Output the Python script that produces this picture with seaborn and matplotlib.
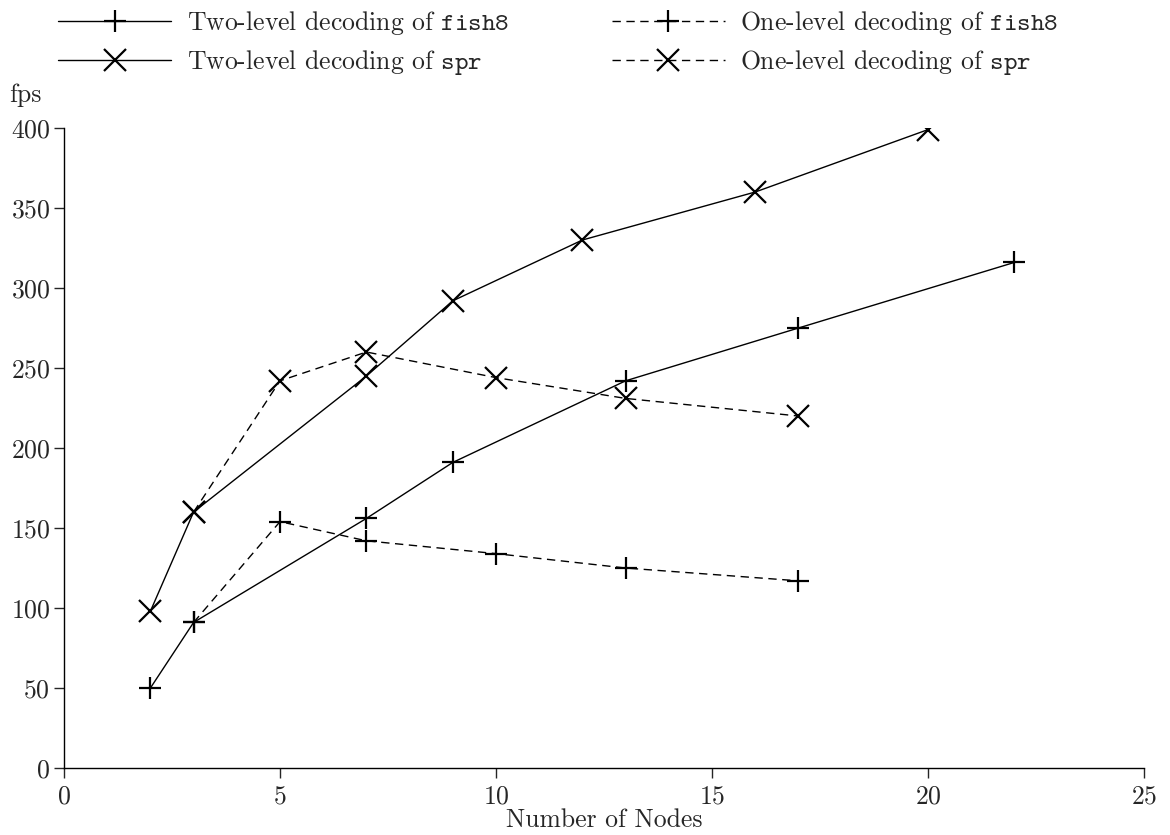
import matplotlib
matplotlib.use("Agg")
import matplotlib.pyplot as plt
import seaborn as sns
import pandas as pd

# data
two_fish8_nodes = [2, 3, 7, 9, 13, 17, 22]
two_fish8_fps = [50, 91, 156, 191, 242, 275, 316]
two_spr_nodes = [2, 3, 7, 9, 12, 16, 20]
two_spr_fps = [98, 160, 245, 292, 330, 360, 399]
one_fish8_nodes = [3, 5, 7, 10, 13, 17]
one_fish8_fps = [91, 154, 142, 134, 125, 117]
one_spr_nodes = [3, 5, 7, 10, 13, 17]
one_spr_fps = [160, 242, 260, 244, 231, 220]

labels = [
    r"Two-level decoding of $\mathtt{fish8}$",
    r"Two-level decoding of $\mathtt{spr}$",
    r"One-level decoding of $\mathtt{fish8}$",
    r"One-level decoding of $\mathtt{spr}$",
]

sns.set_style("ticks")
plt.rcParams["font.family"] = ["cmr10", "DejaVu Serif"]
plt.rcParams["mathtext.fontset"] = "custom"
plt.rcParams["mathtext.rm"] = "cmr10"
plt.rcParams["mathtext.tt"] = "cmtt10"
plt.rcParams["axes.formatter.use_mathtext"] = True

fig = plt.figure(figsize=(11.7, 8.35), dpi=100)
ax = fig.add_axes([0.0547, 0.0802, 0.9231, 0.7665])

series = [
    (two_fish8_nodes, two_fish8_fps, "-", "+", labels[0]),
    (two_spr_nodes, two_spr_fps, "-", "x", labels[1]),
    (one_fish8_nodes, one_fish8_fps, (0, (6, 4)), "+", labels[2]),
    (one_spr_nodes, one_spr_fps, (0, (6, 4)), "x", labels[3]),
]

for xs, ys, ls, mk, lab in series:
    df = pd.DataFrame({"nodes": xs, "fps": ys})
    sns.lineplot(data=df, x="nodes", y="fps", ax=ax, color="black",
                 linestyle=ls, marker=mk, markersize=16, markeredgewidth=1.6,
                 markeredgecolor="black", markerfacecolor="black",
                 linewidth=1.0, label=lab, legend=False)

ax.set_xlim(0, 25)
ax.set_ylim(0, 400)
ax.set_xticks(range(0, 26, 5))
ax.set_yticks(range(0, 401, 50))
ax.tick_params(direction="out", length=7, width=1.0, labelsize=18.5, pad=3)
ax.tick_params(axis="x", pad=5)
for s in ["top", "right"]:
    ax.spines[s].set_visible(False)
for s in ["left", "bottom"]:
    ax.spines[s].set_linewidth(1.0)
    ax.spines[s].set_color("black")

ax.set_xlabel("Number of Nodes", fontsize=18.5, labelpad=0)
ax.set_ylabel("")
fig.text(0.008, 0.886, "fps", fontsize=18.5, ha="left", va="center")

handles, labs = ax.get_legend_handles_labels()
fig.legend(handles, labs, loc="upper left", bbox_to_anchor=(0.03, 1.017),
           ncol=2, frameon=False, fontsize=18.5, handlelength=4.4,
           handletextpad=0.6, columnspacing=4.0, labelspacing=0.42)

plt.savefig("out.png", dpi=100)
